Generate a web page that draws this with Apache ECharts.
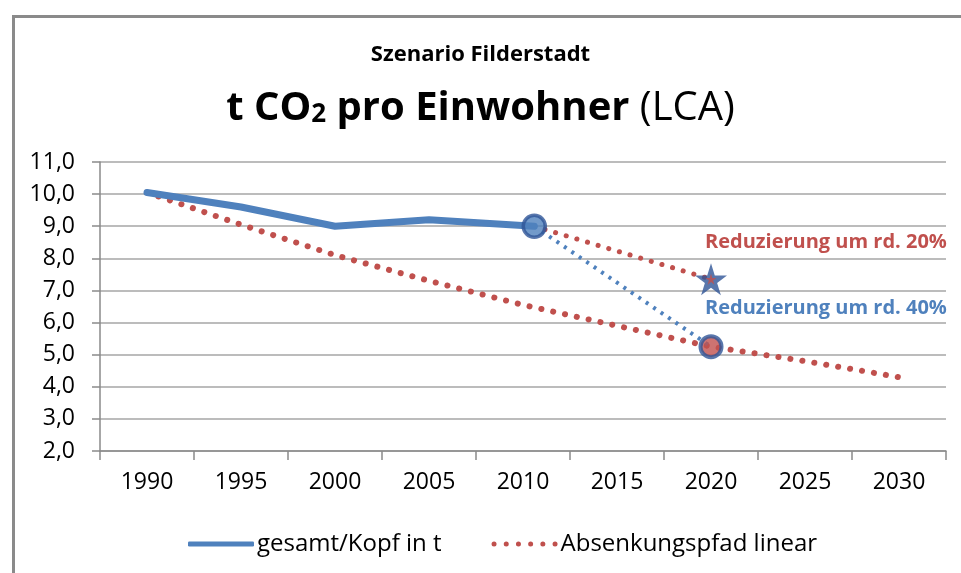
<!DOCTYPE html>
<html>
<head>
<meta charset="utf-8">
<script src="https://cdn.jsdelivr.net/npm/echarts@6/dist/echarts.min.js"></script>
<style>
  html, body { margin: 0; padding: 0; background: #fff; }
  #chart { width: 961px; height: 573px; }
</style>
</head>
<body>
<div id="chart"></div>
<script>
// Achsenbeschriftung
var yearLabels = ['1990', '1995', '2000', '2005', '2010', '2015', '2020', '2025', '2030'];

// gesamt/Kopf in t (letzter Punkt liegt im Bild leicht rechts von 2010)
var totalYears = [1990, 1995, 2000, 2005, 2010.6];
var totalValues = [10.05, 9.6, 9.0, 9.2, 9.0];

// Absenkungspfad linear
var pathYears = [1990, 1995, 2000, 2005, 2010, 2015, 2020, 2025, 2030];
var pathValues = [10.05, 9.05, 8.1, 7.3, 6.55, 5.9, 5.25, 4.8, 4.3];

// Szenarien bis 2020
var scenStartYear = 2010.6;
var scenStartValue = 9.0;
var scenEndYear = 2020;
var minus40Value = 5.25;
var minus20Value = 7.35;

var FONT = '"Open Sans", Lato, sans-serif';
var STAR = 'path://M50,0 L61.8,36.2 L100,36.2 L69.1,58.6 L80.9,95.1 L50,72.7 L19.1,95.1 L30.9,58.6 L0,36.2 L38.2,36.2 Z';

// Legendensymbol: sechs Punkte
function dotsIcon() {
    var p = 'path://';
    for (var i = 0; i < 6; i++) {
        var cx = 2.5 + i * 12.2;
        p += 'M' + (cx - 2.5) + ',2.5 a2.5,2.5 0 1,0 5,0 a2.5,2.5 0 1,0 -5,0 ';
    }
    return p;
}

function pairs(xs, ys) {
    var out = [];
    for (var i = 0; i < xs.length; i++) {
        out.push([xs[i], ys[i]]);
    }
    return out;
}

var myChart = echarts.init(document.getElementById('chart'));

var option = {
    backgroundColor: '#fff',
    textStyle: { fontFamily: FONT },
    animation: false,
    title: [{
        text: 'Szenario Filderstadt',
        left: 'center',
        top: 39,
        textStyle: { fontFamily: FONT, fontSize: 22, fontWeight: 'bold', color: '#000' }
    }, {
        text: '{b|t CO}{s|2}{b| pro Einwohner }{n|(LCA)}',
        left: 'center',
        top: 72,
        textStyle: {
            rich: {
                b: { fontFamily: FONT, fontSize: 40, fontWeight: 'bold', color: '#000', lineHeight: 52, verticalAlign: 'bottom' },
                s: { fontFamily: FONT, fontSize: 26, fontWeight: 'bold', color: '#000', lineHeight: 52, verticalAlign: 'bottom', padding: [0, 0, 1, 0] },
                n: { fontFamily: FONT, fontSize: 40, fontWeight: 'normal', color: '#000', lineHeight: 52, verticalAlign: 'bottom' }
            }
        }
    }],
    graphic: [{
        type: 'rect',
        left: 11,
        top: 14,
        shape: { width: 980, height: 600 },
        style: { fill: 'none', stroke: '#8a8a8a', lineWidth: 3 },
        z: -1
    }, {
        type: 'text',
        left: 705,
        top: 232,
        style: { text: 'Reduzierung um rd. 20%', fill: '#C0504D', font: 'bold 20px ' + FONT }
    }, {
        type: 'text',
        left: 705,
        top: 298,
        style: { text: 'Reduzierung um rd. 40%', fill: '#4F81BD', font: 'bold 20px ' + FONT }
    }],
    legend: {
        data: [
            { name: 'gesamt/Kopf in t', icon: 'roundRect', itemStyle: { color: '#4F81BD' } },
            { name: 'Absenkungspfad linear', icon: dotsIcon(), itemStyle: { color: '#C0504D' } }
        ],
        left: 183,
        top: 527,
        itemWidth: 66,
        itemHeight: 5,
        itemGap: 50,
        textStyle: { fontFamily: FONT, fontSize: 24, color: '#000', padding: [0, 0, 0, -2] }
    },
    grid: {
        left: 100,
        right: 15,
        top: 162,
        bottom: 122
    },
    xAxis: [{
        type: 'category',
        data: yearLabels,
        boundaryGap: true,
        axisLine: { lineStyle: { color: '#8a8a8a', width: 1.5 } },
        axisTick: { show: true, length: 9, lineStyle: { color: '#8a8a8a', width: 1.5 } },
        axisLabel: { fontFamily: FONT, fontSize: 23, color: '#000', margin: 20 },
        splitLine: { show: false }
    }, {
        type: 'value',
        min: 1987.5,
        max: 2032.5,
        show: false
    }],
    yAxis: {
        type: 'value',
        min: 2,
        max: 11,
        interval: 1,
        axisLine: { show: true, lineStyle: { color: '#8a8a8a', width: 1.5 } },
        axisTick: { show: true, length: 8, lineStyle: { color: '#8a8a8a', width: 1.5 } },
        axisLabel: {
            fontFamily: FONT, fontSize: 23, color: '#000', margin: 25,
            formatter: function (v) { return v.toFixed(1).replace('.', ','); }
        },
        splitLine: { lineStyle: { color: '#a6a6a6', width: 1.5 } }
    },
    series: [{
        name: 'Absenkungspfad linear',
        type: 'line',
        xAxisIndex: 1,
        data: pairs(pathYears, pathValues),
        symbol: 'none',
        color: '#C0504D',
        lineStyle: { color: '#C0504D', width: 6, type: [0.1, 12], cap: 'round' },
        z: 2
    }, {
        name: 'gesamt/Kopf in t',
        type: 'line',
        xAxisIndex: 1,
        data: pairs(totalYears, totalValues),
        symbol: 'none',
        color: '#4F81BD',
        lineStyle: { color: '#4F81BD', width: 7, cap: 'round', join: 'round' },
        z: 3
    }, {
        name: 'minus40',
        type: 'line',
        xAxisIndex: 1,
        data: [[scenStartYear, scenStartValue], [scenEndYear, minus40Value]],
        symbol: 'none',
        lineStyle: { color: '#4F81BD', width: 4, type: [3, 6] },
        z: 2
    }, {
        name: 'minus20',
        type: 'line',
        xAxisIndex: 1,
        data: [[scenStartYear, scenStartValue], [scenEndYear, minus20Value]],
        symbol: 'none',
        lineStyle: { color: '#C0504D', width: 5, type: [0.1, 11], cap: 'round' },
        z: 2
    }, {
        name: 'start2010',
        type: 'scatter',
        xAxisIndex: 1,
        data: [[scenStartYear, scenStartValue]],
        symbol: 'circle',
        symbolSize: 22,
        itemStyle: { color: '#4F81BD', borderColor: '#2F5597', borderWidth: 3.5 },
        z: 5
    }, {
        name: 'ziel40',
        type: 'scatter',
        xAxisIndex: 1,
        data: [[scenEndYear, minus40Value]],
        symbol: 'circle',
        symbolSize: 21,
        itemStyle: { color: '#C0504D', borderColor: '#2F5597', borderWidth: 4 },
        z: 5
    }, {
        name: 'ziel20',
        type: 'scatter',
        xAxisIndex: 1,
        data: [[scenEndYear, minus20Value]],
        symbol: STAR,
        symbolSize: 32,
        itemStyle: { color: '#2F5597' },
        z: 5
    }, {
        name: 'ziel20innen',
        type: 'scatter',
        xAxisIndex: 1,
        data: [[scenEndYear, minus20Value]],
        symbol: STAR,
        symbolSize: 11,
        itemStyle: { color: '#C0504D' },
        z: 6
    }]
};

myChart.setOption(option);
</script>
</body>
</html>
